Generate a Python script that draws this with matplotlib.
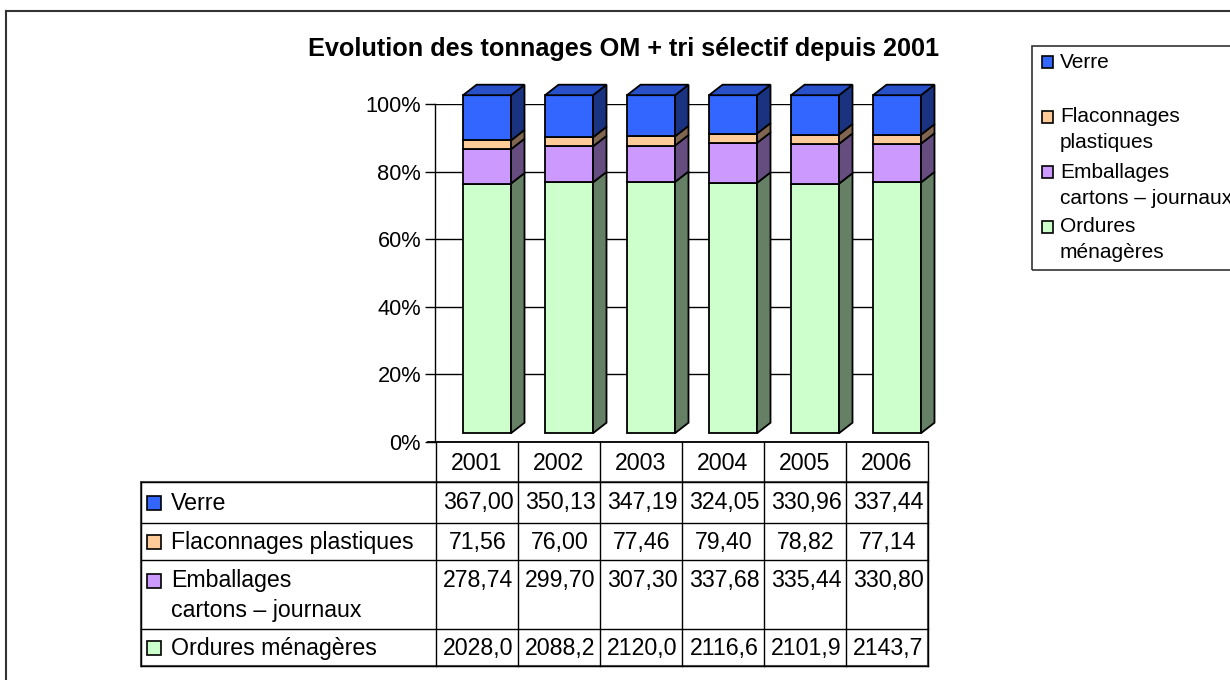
import matplotlib
matplotlib.use("Agg")
import matplotlib.pyplot as plt
from matplotlib.patches import Polygon, Rectangle
from matplotlib.lines import Line2D
import numpy as np

plt.rcParams['font.family'] = ['Liberation Sans', 'DejaVu Sans']

# ---------------- data ----------------
years = ["2001", "2002", "2003", "2004", "2005", "2006"]
series_names = ["Ordures ménagères", "Emballages\ncartons – journaux",
                "Flaconnages plastiques", "Verre"]
ordures = [2028.0, 2088.2, 2120.0, 2116.6, 2101.9, 2143.7]
emballages = [278.74, 299.70, 307.30, 337.68, 335.44, 330.80]
flaconnages = [71.56, 76.00, 77.46, 79.40, 78.82, 77.14]
verre = [367.00, 350.13, 347.19, 324.05, 330.96, 337.44]
title = "Evolution des tonnages OM + tri sélectif depuis 2001"
yticks = [0, 20, 40, 60, 80, 100]

# ---------------- style ----------------
front_cols = ["#CCFFCC", "#CC99FF", "#FFCC99", "#3366FF"]
side_cols = ["#668066", "#664D80", "#806650", "#1A3380"]
top_col = "#2850C8"

W, H = 1230, 680
fig = plt.figure(figsize=(W / 100, H / 100), dpi=100)

def fx(px):
    return px / W

def fy(py):
    return 1 - py / H

# outer border
fig.add_artist(Line2D([fx(6), fx(6)], [fy(11), fy(690)], color="#333333", lw=1.5))
fig.add_artist(Line2D([fx(6), fx(1240)], [fy(11), fy(11)], color="#333333", lw=1.5))

# title
fig.text(fx(624), fy(49), title, ha="center", va="center", fontsize=18.2,
         fontweight="bold")

# ---------------- chart axes ----------------
ax = fig.add_axes([fx(435), fy(442), fx(927) - fx(435), (442 - 104) / H])
ax.set_xlim(-0.5, 5.5)
ax.set_ylim(0, 100)
for s in ["top", "right", "bottom"]:
    ax.spines[s].set_visible(False)
ax.spines["left"].set_linewidth(1.0)
ax.set_xticks([])
ax.set_yticks(yticks)
ax.set_yticklabels([f"{t}%" for t in yticks])
ax.tick_params(axis="y", length=7, width=1, labelsize=15.7, pad=3)
ax.yaxis.grid(True, color="black", lw=1.0)
ax.set_axisbelow(True)

data = np.array([ordures, emballages, flaconnages, verre])
pct = data / data.sum(axis=0) * 100
cum = np.vstack([np.zeros(len(years)), np.cumsum(pct, axis=0)])

off_x = 11 / 82      # front face center shift
bw = 48 / 82         # front face width
dx = 13.5 / 82       # depth in x
dy = 10.5 / 3.38     # depth in y
base = 2.6           # front face floor offset
ecol = "black"
elw = 1.3

for i in range(len(years)):
    xl = i + off_x - bw / 2
    xr = xl + bw
    for k in range(len(series_names)):
        b = base + cum[k, i]
        t = base + cum[k + 1, i]
        ax.bar(xl, t - b, bottom=b, width=bw, align="edge", color=front_cols[k],
               edgecolor=ecol, linewidth=elw, zorder=3, clip_on=False)
        side = Polygon([(xr, b), (xr + dx, b + dy), (xr + dx, t + dy), (xr, t)],
                       closed=True, facecolor=side_cols[k], edgecolor=ecol,
                       lw=elw, zorder=3, clip_on=False)
        ax.add_patch(side)
    t = base + cum[-1, i]
    top = Polygon([(xl, t), (xl + dx, t + dy), (xr + dx, t + dy), (xr, t)],
                  closed=True, facecolor=top_col, edgecolor=ecol, lw=elw,
                  zorder=4, clip_on=False)
    ax.add_patch(top)

# ---------------- data table ----------------
col_x = [436 + 82 * j for j in range(len(years) + 1)]
row_y = [442, 482, 523, 560, 629, 666]
tlw = 1.0
tc = "black"
# header row
fig.add_artist(Line2D([fx(428), fx(col_x[-1])], [fy(442), fy(442)], color=tc, lw=1.3))
for xv in col_x:
    fig.add_artist(Line2D([fx(xv), fx(xv)], [fy(442), fy(666)], color=tc, lw=tlw))
for yv in row_y[1:]:
    fig.add_artist(Line2D([fx(141), fx(col_x[-1])], [fy(yv), fy(yv)], color=tc, lw=tlw))
fig.add_artist(Line2D([fx(141), fx(141)], [fy(482), fy(666)], color=tc, lw=tlw))
fig.add_artist(Rectangle((fx(141), fy(666)), fx(col_x[-1]) - fx(141), fy(482) - fy(666),
                         fill=False, edgecolor="#555555", lw=1.5))

tfs = 16.7
for j, yr in enumerate(years):
    fig.text(fx((col_x[j] + col_x[j + 1]) / 2), fy(463), yr, ha="center",
             va="center", fontsize=tfs)

# rows top to bottom: Verre, Flaconnages, Emballages, Ordures
row_order = [3, 2, 1, 0]
row_text_y = [503, 542, 581, 648]
fmts = ["{:.1f}", "{:.2f}", "{:.2f}", "{:.2f}"]
for r, k in enumerate(row_order):
    yc = row_text_y[r]
    fig.add_artist(Rectangle((fx(147), fy(yc + 7)), 14 / W, 14 / H,
                             facecolor=front_cols[k], edgecolor="black", lw=1.2))
    lines = series_names[k].split("\n")
    for li, txt in enumerate(lines):
        fig.text(fx(171), fy(yc + 30 * li), txt, ha="left", va="center",
                 fontsize=tfs)
    for j in range(len(years)):
        s = fmts[k].format(data[k, j]).replace(".", ",")
        fig.text(fx((col_x[j] + col_x[j + 1]) / 2 + 1), fy(yc), s, ha="center",
                 va="center", fontsize=tfs)

# ---------------- legend ----------------
fig.add_artist(Rectangle((fx(1032), fy(270)), fx(1300) - fx(1032), fy(46) - fy(270),
                         fill=False, edgecolor="#333333", lw=1.2))
leg_entries = [(3, ["Verre", ""], 62), (2, ["Flaconnages", "plastiques"], 117),
               (1, ["Emballages", "cartons – journaux"], 172),
               (0, ["Ordures", "ménagères"], 227)]
for k, lines, yc in leg_entries:
    fig.add_artist(Rectangle((fx(1042), fy(yc + 5.5)), 11 / W, 11 / H,
                             facecolor=front_cols[k], edgecolor="black", lw=1.2))
    for li, txt in enumerate(lines):
        if txt:
            fig.text(fx(1060), fy(yc + 26 * li), txt, ha="left", va="center",
                     fontsize=15)

fig.savefig("out.png", dpi=100)
